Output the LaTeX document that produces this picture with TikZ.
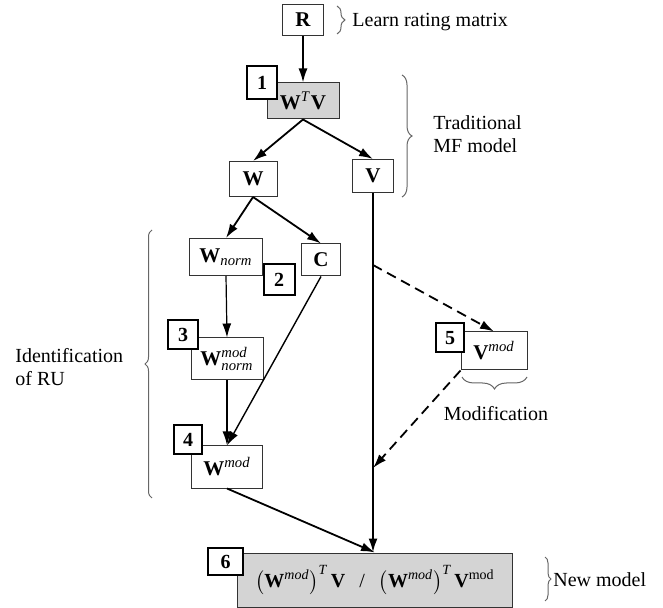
\documentclass[tikz,border=0pt]{standalone}
\usepackage{amsmath}
\usepackage{fontspec}
\setmainfont{Liberation Serif}
\newfontfamily\tnr{Liberation Serif}
\usepackage{xcolor}
\usetikzlibrary{arrows.meta,decorations.pathreplacing}
\definecolor{boxgray}{RGB}{212,212,212}
\begin{document}
\begin{tikzpicture}[x=0.5pt,y=-0.5pt,>={Latex[length=7pt,width=4.5pt]},
box/.style={draw=black!80,line width=0.5pt,fill=white,inner sep=0pt,font=\tnr\fontsize{10.5}{12}\selectfont},
numbox/.style={draw,line width=1pt,fill=white,inner sep=0pt,minimum width=15pt,minimum height=15pt,font=\tnr\bfseries\fontsize{10}{12}\selectfont},
link/.style={->,line width=0.9pt},
dlink/.style={->,line width=0.9pt,dash pattern=on 5pt off 3pt},
ubrace/.style={decorate,decoration={brace,amplitude=#1},black!60,line width=0.5pt},
note/.style={font=\tnr\fontsize{10}{11.5}\selectfont,inner sep=0pt,align=left}]
\useasboundingbox(0,0)rectangle(663,608);
\node[box,minimum width=20.5pt,minimum height=15.5pt](R)at(303,20){\textbf{R}};
\node[box,fill=boxgray,minimum width=36pt,minimum height=18pt](WTV)at(303,101){\textbf{W}\textsuperscript{\textit{T}}\textbf{V}};
\node[box,minimum width=24pt,minimum height=17.5pt](W)at(253,179){\textbf{W}};
\node[box,minimum width=20.5pt,minimum height=16.5pt](V)at(373,176){\textbf{V}};
\node[box,minimum width=36.5pt,minimum height=18.5pt](Wn)at(226,257){\textbf{W}$_{\textit{norm}}$};
\node[box,minimum width=19.5pt,minimum height=16pt](C)at(321,260){\textbf{C}};
\node[box,minimum width=36pt,minimum height=21pt](Wmn)at(227,359){\textbf{W}$^{\textit{mod}}_{\textit{norm}}$};
\node[box,minimum width=35.5pt,minimum height=21pt](Wm)at(227,467){\textbf{W}$^{\textit{mod}}$};
\node[box,minimum width=33pt,minimum height=19pt](Vm)at(494,351){\textbf{V}$^{\textit{mod}}$};
\node[box,fill=boxgray,minimum width=137.5pt,minimum height=27pt,font=\tnr\fontsize{10}{12}\selectfont](New)at(375,580)
{$\left(\textbf{W}^{\textit{mod}}\right)^{\textit{T}}\textbf{V}$\hspace{7pt}/\hspace{7pt}$\left(\textbf{W}^{\textit{mod}}\right)^{\textit{T}}\textbf{V}^{\text{mod}}$};
\node[numbox,minimum height=16.5pt](n1)at(262,83){1};
\node[numbox,minimum width=15.5pt,minimum height=15.5pt](n2)at(279,280){2};
\node[numbox,minimum height=14.5pt](n3)at(183,335){3};
\node[numbox,minimum width=14pt,minimum height=14.5pt](n4)at(188,440){4};
\node[numbox,minimum width=14pt,minimum height=14.5pt](n5)at(450,338){5};
\node[numbox,minimum width=17.5pt,minimum height=13.5pt](n6)at(225.5,561.5){6};
\coordinate(vsplit)at(373,265);
\coordinate(vjoin)at(373,468);
\draw[link](R)--(WTV);
\draw[link](WTV.south)--(W.north);
\draw[link](WTV.south)--(V.north);
\draw[link](W.south)--(Wn.north);
\draw[link](W.south)--(C.north);
\draw[->,line width=0.6pt](Wn.south)--(Wmn.north);
\draw[link](Wmn.south)--(Wm.north);
\draw[link,line width=0.7pt](C.south)--(Wm.north);
\draw[link,line width=1.1pt](V.south)--(V.south|-New.north);
\draw[dlink](vsplit)--(Vm.north);
\draw[dlink](Vm.south west)--(vjoin);
\draw[link](Wm.south)--(New.north);
\draw[ubrace=4pt](337,6)--(337,34);
\node[note,anchor=west](learn)at(352,22){Learn rating matrix};
\draw[ubrace=5pt](402,75)--(402,197);
\node[note,anchor=west](trad)at(433,134){Traditional\\MF model};
\draw[ubrace=3.5pt](152,498)--(152,230);
\node[note,anchor=west](ident)at(15,367){Identification\\of RU};
\draw[ubrace=6pt](527,377)--(462,377);
\node[note](modif)at(496,414){Modification};
\draw[ubrace=3pt](545,557)--(545,601);
\node[note,anchor=west](newm)at(553,580){New model};
\end{tikzpicture}
\end{document}
